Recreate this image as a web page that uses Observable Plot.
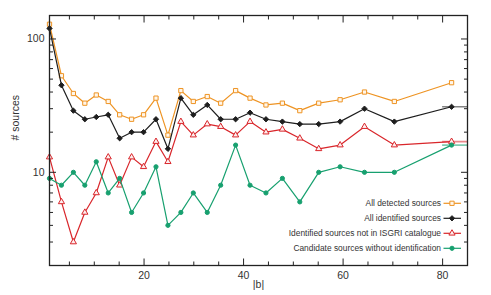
<!DOCTYPE html>
<html><head><meta charset="utf-8">
<script src="https://cdn.jsdelivr.net/npm/d3@7"></script>
<script src="https://cdn.jsdelivr.net/npm/@observablehq/plot@0.6"></script>
<style>
body{margin:0;background:#fff;}
#chart{width:491px;height:295px;}
</style></head><body><div id="chart"></div>
<script>
// |b| bin positions (degrees)
const absB = [1, 3.4, 5.8, 8.1, 10.4, 12.8, 15.1, 17.5, 19.9, 22.4, 24.8, 27.4, 29.9, 32.7, 35.4, 38.4, 41.3, 44.5, 47.8, 51.3, 55.1, 59.4, 64.3, 70.3, 81.8];
const allDetected   = [129, 53, 39, 33, 38, 34, 27, 25, 27, 36, 19, 41, 34, 37, 33, 41, 36, 32, 33, 29, 33, 35, 40, 34, 47];
const allIdentified = [120, 45, 29, 25, 26, 27, 18, 20, 20, 25, 15, 36, 27, 32, 25, 25, 28, 25, 24, 23, 23, 24, 30, 24, 31];
const notInISGRI    = [13, 6, 3, 5, 7, 13, 8, 13, 11, 17, 12, 24, 19, 23, 22, 19, 24, 20, 21, 18, 15, 16, 22, 16, 17];
const candidates    = [9, 8, 10, 8, 12, 7, 9, 5, 7, 11, 4, 5, 7, 5, 8, 16, 8, 7, 9, 6, 10, 11, 10, 10, 16];
const lastBinEdges = [80, 90];

const seriesNames = ["All detected sources", "All identified sources", "Identified sources not in ISGRI catalogue", "Candidate sources without identification"];
const seriesValues = [allDetected, allIdentified, notInISGRI, candidates];
const seriesColors = ["#ee9424", "#1e1e1e", "#d9262b", "#17a06f"];
const seriesSymbols = ["square", "diamond2", "triangle", "circle"];
const seriesFills = ["#fff6ea", "#1e1e1e", "#fdeeee", "#17a06f"];
const seriesR = [2.4, 2.4, 2.3, 2.1];
const seriesHasBinBar = [false, true, true, true];

const xMajorTicks = [20, 40, 60, 80];
const xMinorTicks = [5, 10, 15, 25, 30, 35, 45, 50, 55, 65, 70, 75, 85];
const yMajorTicks = [10, 100];
const yMinorTicks = [2, 3, 4, 5, 6, 7, 8, 9, 20, 30, 40, 50, 60, 70, 80, 90];

const marks = [];
seriesValues.forEach((vals, s) => {
  const data = absB.map((b, i) => ({b, v: vals[i]}));
  if (seriesHasBinBar[s]) {
    marks.push(Plot.ruleY([vals[vals.length - 1]], {y: d => d, x1: lastBinEdges[0], x2: lastBinEdges[1], stroke: seriesColors[s], strokeOpacity: 0.55, strokeWidth: 1.6, clip: true}));
  }
  marks.push(Plot.line(data, {x: "b", y: "v", stroke: seriesColors[s], strokeWidth: 1.2}));
  marks.push(Plot.dot(data, {x: "b", y: "v", symbol: seriesSymbols[s], r: seriesR[s], stroke: seriesColors[s], fill: seriesFills[s], strokeWidth: 1}));
});

const tickStyle = {stroke: "#222", strokeWidth: 1, tickFormat: () => "", label: null};
const plot = Plot.plot({
  width: 491, height: 295,
  marginLeft: 49, marginRight: 24, marginTop: 15, marginBottom: 30,
  style: {fontFamily: "'Liberation Sans', Arial, sans-serif", background: "white"},
  x: {domain: [1, 85], axis: null},
  y: {type: "log", domain: [2, 150], axis: null},
  marks: [
    ...marks,
    Plot.axisX(xMinorTicks, {anchor: "bottom", tickSize: -3.5, ...tickStyle}),
    Plot.axisX(xMinorTicks, {anchor: "top", tickSize: -3.5, ...tickStyle}),
    Plot.axisX(xMajorTicks, {anchor: "bottom", tickSize: -6.5, ...tickStyle}),
    Plot.axisX(xMajorTicks, {anchor: "top", tickSize: -6.5, ...tickStyle}),
    Plot.axisY(yMinorTicks, {anchor: "left", tickSize: -4, ...tickStyle}),
    Plot.axisY(yMinorTicks, {anchor: "right", tickSize: -4, ...tickStyle}),
    Plot.axisY(yMajorTicks, {anchor: "left", tickSize: -7, ...tickStyle}),
    Plot.axisY(yMajorTicks, {anchor: "right", tickSize: -7, ...tickStyle}),
    Plot.axisX(xMajorTicks, {anchor: "bottom", tickSize: 0, tickPadding: 6, fontSize: 10.5, color: "#333", label: null}),
    Plot.axisY(yMajorTicks, {anchor: "left", tickSize: 0, tickPadding: 5, fontSize: 10.5, color: "#333", label: null, tickFormat: d => String(d)}),
    Plot.text(["# sources"], {text: d => d, frameAnchor: "left", dx: -34, rotate: -90, fontSize: 10.5, fill: "#333"}),
    Plot.text(["|b|"], {text: d => d, frameAnchor: "bottom", dy: 22.5, fontSize: 10.5, fill: "#333"}),
    Plot.frame({stroke: "#222", strokeWidth: 1.3})
  ]
});

// legend inside the frame, lower right
const xr = plot.scale("x").range, yr = plot.scale("y").range;
const right = Math.max(...xr), bottom = Math.max(...yr);
const svg = d3.select(plot);
const symMap = {square: d3.symbolSquare, diamond2: d3.symbolDiamond2, triangle: d3.symbolTriangle, circle: d3.symbolCircle};
const lg = svg.append("g").attr("font-family", "'Liberation Sans', Arial, sans-serif").attr("font-size", 8.4);
seriesNames.forEach((name, s) => {
  const yy = bottom - 16.7 - (3 - s) * 15;
  lg.append("text").attr("x", right - 26).attr("y", yy).attr("dy", "0.32em").attr("text-anchor", "end").attr("fill", "#333").text(name);
  lg.append("line").attr("x1", right - 23.5).attr("x2", right - 6).attr("y1", yy).attr("y2", yy).attr("stroke", seriesColors[s]).attr("stroke-width", 1.2);
  lg.append("path").attr("transform", `translate(${right - 15},${yy})`)
    .attr("d", d3.symbol(symMap[seriesSymbols[s]], Math.PI * seriesR[s] ** 2)())
    .attr("stroke", seriesColors[s]).attr("fill", seriesFills[s]);
});

document.getElementById("chart").appendChild(plot);
</script>
</body></html>
